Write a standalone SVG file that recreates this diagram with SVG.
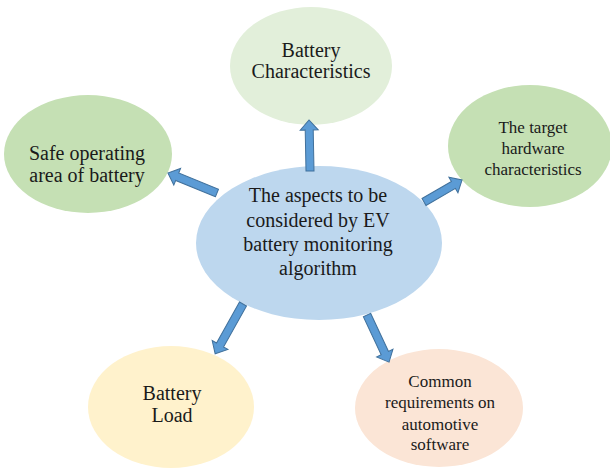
<svg xmlns="http://www.w3.org/2000/svg" width="610" height="471" viewBox="0 0 610 471">
<style>
text{font-family:"Liberation Serif","Times New Roman",serif;fill:#1a1a1a;text-anchor:middle}
.f20{font-size:20px}
.f17{font-size:17px}
.arrow{fill:#5B9BD5;stroke:#41719C;stroke-width:1}
</style>
<rect width="610" height="471" fill="#ffffff"/>
<g id="node-battery-characteristics">
<ellipse cx="311" cy="66" rx="81" ry="59" fill="#E2EFDA"/>
<text class="f20" x="311" y="57">Battery</text>
<text class="f20" x="311" y="78">Characteristics</text>
</g>
<g id="node-safe-operating">
<ellipse cx="88" cy="154" rx="84" ry="59" fill="#C5E0B4"/>
<text class="f20" x="87" y="160">Safe operating</text>
<text class="f20" x="87" y="182">area of battery</text>
</g>
<g id="node-target-hardware">
<ellipse cx="530" cy="146" rx="82" ry="61" fill="#C5E0B4"/>
<text class="f17" x="533" y="133">The target</text>
<text class="f17" x="533" y="154">hardware</text>
<text class="f17" x="533" y="175">characteristics</text>
</g>
<g id="node-battery-load">
<ellipse cx="171" cy="407" rx="83" ry="61" fill="#FFF2CC"/>
<text class="f20" x="172" y="400">Battery</text>
<text class="f20" x="172" y="422">Load</text>
</g>
<g id="node-common-requirements">
<ellipse cx="439" cy="408" rx="84" ry="59" fill="#FBE5D6"/>
<text class="f17" x="440" y="387">Common</text>
<text class="f17" x="440" y="408">requirements on</text>
<text class="f17" x="440" y="430">automotive</text>
<text class="f17" x="440" y="450">software</text>
</g>
<g id="node-center">
<ellipse cx="319" cy="243" rx="123" ry="77" fill="#BDD7EE"/>
<text class="f20" x="318" y="202">The aspects to be</text>
<text class="f20" x="318" y="227">considered by EV</text>
<text class="f20" x="318" y="251">battery monitoring</text>
<text class="f20" x="318" y="275">algorithm</text>
</g>
<g id="connectors">
<polygon class="arrow" transform="translate(310,171) rotate(-91.1)" points="0,-4 41,-4 41,-9 51,0 41,9 41,4 0,4"/>
<polygon class="arrow" transform="translate(217,193) rotate(-157.8)" points="0,-4 43,-4 43,-9 53,0 43,9 43,4 0,4"/>
<polygon class="arrow" transform="translate(424,202) rotate(-30.1)" points="0,-4 34,-4 34,-9 44,0 34,9 34,4 0,4"/>
<polygon class="arrow" transform="translate(243,304) rotate(119.25)" points="0,-4 47,-4 47,-9 57,0 47,9 47,4 0,4"/>
<polygon class="arrow" transform="translate(367,315) rotate(64.9)" points="0,-4 42,-4 42,-9 52,0 42,9 42,4 0,4"/>
</g>
</svg>
